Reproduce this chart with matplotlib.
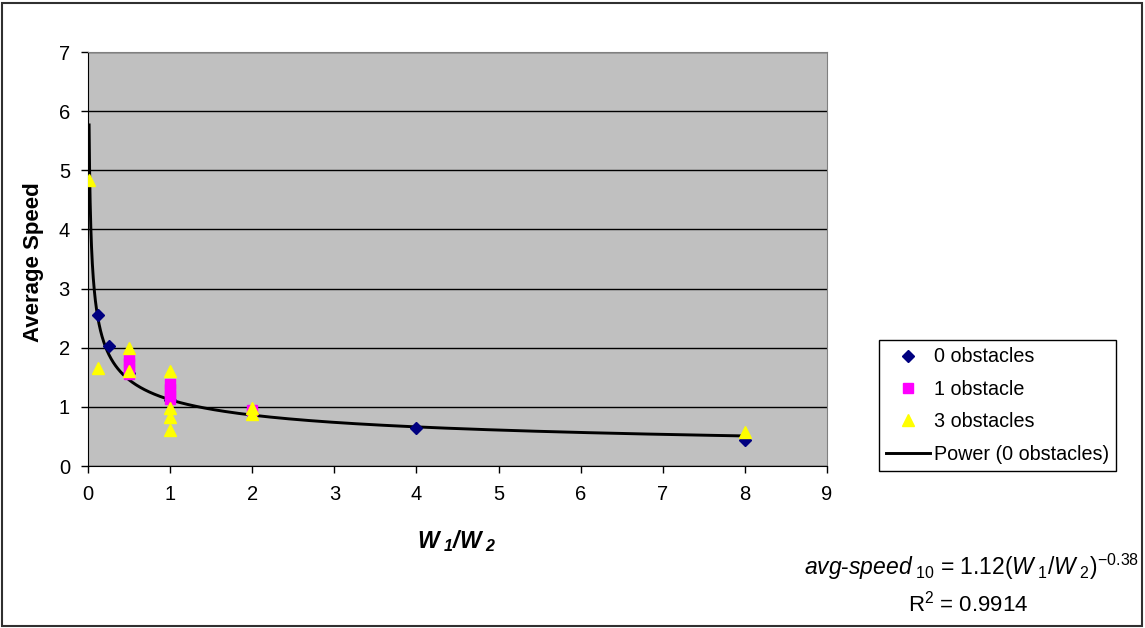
import matplotlib
matplotlib.use("Agg")
import numpy as np
import matplotlib.pyplot as plt
from matplotlib.patches import Rectangle

plt.rcParams["font.family"] = ["Liberation Sans", "DejaVu Sans"]
plt.rcParams["font.size"] = 14.5
plt.rcParams["mathtext.fontset"] = "custom"
plt.rcParams["mathtext.rm"] = "Liberation Sans"
plt.rcParams["mathtext.it"] = "Liberation Sans:italic"
plt.rcParams["mathtext.bf"] = "Liberation Sans:bold"
plt.rcParams["mathtext.bfit"] = "Liberation Sans:bold:italic"

# W1/W2 ratio vs average speed, per number of obstacles
x_obs0 = [0.125, 0.25, 0.5, 1, 2, 4, 8]
y_obs0 = [2.55, 2.03, 1.57, 1.12, 0.88, 0.64, 0.44]

x_obs1 = [0.5, 0.5, 0.5, 0.5, 1, 1, 1, 1, 2]
y_obs1 = [1.85, 1.75, 1.65, 1.55, 1.38, 1.30, 1.20, 1.13, 0.95]

x_obs3 = [0.0156, 0.125, 0.5, 0.5, 1, 1, 1, 1, 2, 2, 8]
y_obs3 = [4.83, 1.66, 2.0, 1.61, 1.6, 0.98, 0.83, 0.61, 0.98, 0.88, 0.58]

# power trendline fitted on the 0-obstacle series
fit_a = 1.12
fit_b = -0.38
fit_r2 = 0.9914
fit_x_start = 0.0134

W, H = 1145, 628
fig = plt.figure(figsize=(W / 100, H / 100), dpi=100)
ax = fig.add_axes([88 / W, 1 - 466 / H, (827 - 88) / W, (466 - 52) / H])
ax.set_facecolor("#C0C0C0")

xt = np.geomspace(fit_x_start, max(x_obs0), 400)
ax.plot(xt, fit_a * xt ** fit_b, color="black", lw=2.1, zorder=3,
        label="Power (0 obstacles)")

ax.plot(x_obs0, y_obs0, ls="none", marker="D", ms=6, color="#000080",
        mec="#000080", zorder=4, label="0 obstacles")
ax.plot(x_obs1, y_obs1, ls="none", marker="s", ms=6.5, color="#FF00FF",
        mec="#FF00FF", zorder=5, label="1 obstacle")
ax.plot(x_obs3, y_obs3, ls="none", marker="^", ms=8.5, color="#FFFF00",
        mec="#FFFF00", zorder=6, label="3 obstacles")

ax.set_xlim(0, 9)
ax.set_ylim(0, 7)
ax.set_xticks(range(0, 10))
ax.set_yticks(range(0, 8))
ax.yaxis.grid(True, color="black", lw=1)
ax.set_axisbelow(True)
ax.tick_params(axis="x", direction="out", length=5, width=1, pad=9)
ax.tick_params(axis="y", direction="out", length=5, width=1, pad=8)
ax.spines["left"].set_color("black")
ax.spines["bottom"].set_color("black")
ax.spines["top"].set_color("#808080")
ax.spines["right"].set_color("#808080")

fig.text(34 / W, 1 - 262 / H, "Average Speed", rotation=90, ha="center",
         va="center", fontweight="bold", fontsize=16)
fig.text(457 / W, 1 - 541 / H,
         r"$\mathbfit{W}_{\ \mathbfit{1}}\mathbfit{/W}_{\ \mathbfit{2}}$",
         ha="center", va="center", fontsize=16.5)

fig.text(1139 / W, 1 - 567 / H,
         r"$\mathit{avg}$-$\mathit{speed}_{\ \mathit{10}}$ = "
         r"%.2f($\mathit{W}_{\ \mathit{1}}/\mathit{W}_{\ 2}$)$^{%.2f}$" % (fit_a, fit_b),
         ha="right", va="center", fontsize=16.5)
fig.text(968 / W, 1 - 604 / H, r"R$^2$ = %.4f" % fit_r2, ha="center",
         va="center", fontsize=16)

h, l = ax.get_legend_handles_labels()
order = [1, 2, 3, 0]
leg = fig.legend([h[i] for i in order], [l[i] for i in order],
                 loc="upper left", bbox_to_anchor=(879 / W, 1 - 340 / H),
                 frameon=True, fancybox=False, edgecolor="black",
                 framealpha=1, handlelength=2.2, handletextpad=0.2,
                 labelspacing=0.68, borderpad=0.38, borderaxespad=0,
                 fontsize=14.2)
leg.get_frame().set_linewidth(1)

fig.patches.append(Rectangle((2 / W, 2 / H), (W - 5) / W, (H - 5) / H,
                             transform=fig.transFigure, fill=False,
                             ec="#303030", lw=1.5))

fig.savefig("out.png", dpi=100)
